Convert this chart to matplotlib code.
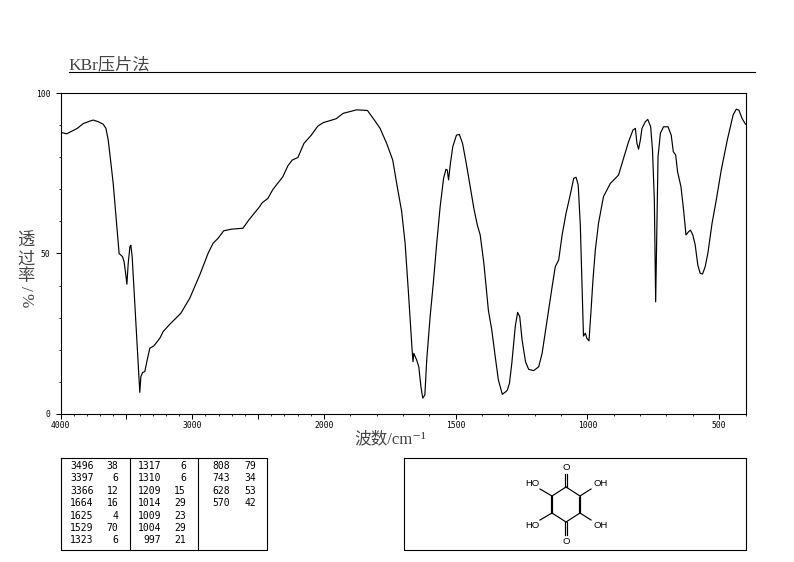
import numpy as np
import matplotlib
matplotlib.use('Agg')
import matplotlib.pyplot as plt

# wavenumber (cm-1) and transmittance (%)
wavenumber = [4000, 3953, 3915, 3873, 3827, 3782, 3752, 3714, 3676, 3655, 3638, 3620, 3600, 3585, 3572,
              3564, 3555, 3529, 3517, 3504, 3496, 3486, 3473, 3466, 3456, 3443, 3430, 3418, 3405, 3398,
              3390, 3377, 3360, 3342, 3322, 3292, 3246, 3221, 3170, 3087, 3019, 2943, 2880, 2842, 2805,
              2761, 2703, 2615, 2570, 2489, 2468, 2426, 2388, 2312, 2274, 2241, 2198, 2152, 2096, 2047,
              2005, 1954, 1927, 1876, 1835, 1813, 1787, 1762, 1739, 1724, 1705, 1692, 1680, 1671, 1665,
              1662, 1659, 1648, 1640, 1632, 1625, 1617, 1610, 1597, 1585, 1572, 1559, 1546, 1537, 1532,
              1527, 1520, 1511, 1497, 1486, 1474, 1460, 1444, 1431, 1418, 1407, 1393, 1376, 1363, 1350,
              1338, 1323, 1310, 1304, 1296, 1287, 1274, 1265, 1257, 1248, 1235, 1223, 1204, 1185, 1172,
              1153, 1134, 1122, 1109, 1096, 1081, 1064, 1052, 1043, 1035, 1027, 1020, 1015, 1008, 1002,
              994, 987, 979, 970, 958, 939, 913, 882, 863, 844, 827, 818, 812, 806, 799,
              793, 780, 771, 760, 753, 746, 741, 736, 732, 723, 711, 694, 682, 674, 665,
              658, 645, 635, 626, 616, 609, 600, 591, 581, 572, 563, 553, 543, 527, 511,
              492, 469, 447, 435, 425, 413, 400]
transmittance = [87.9, 87.4, 88.2, 89.1, 90.6, 91.3, 91.7, 91.2, 90.4, 89.1, 85.5, 79.2, 71.9, 64.6, 58.4,
                 54.2, 50.0, 49.0, 47.4, 43.3, 40.4, 46.9, 52.1, 52.6, 49.0, 39.6, 30.3, 21.9, 12.6, 6.6,
                 11.5, 12.8, 13.1, 16.7, 20.4, 21.1, 23.5, 25.6, 27.9, 31.3, 36.0, 43.3, 50.0, 53.2, 54.7,
                 57.1, 57.6, 57.9, 60.5, 64.6, 65.9, 67.2, 70.0, 74.0, 77.4, 79.2, 80.0, 84.4, 87.0, 89.8,
                 90.9, 92.1, 93.8, 94.9, 94.7, 92.2, 89.1, 84.4, 79.2, 71.9, 63.1, 53.2, 38.6, 27.1, 19.3,
                 16.2, 18.8, 16.7, 14.6, 8.4, 4.8, 5.8, 16.7, 30.3, 40.7, 53.2, 64.6, 73.5, 76.3, 76.1,
                 73.0, 78.2, 83.4, 87.0, 87.2, 84.4, 78.2, 70.4, 64.1, 58.9, 55.8, 46.9, 32.3, 26.1, 17.8,
                 10.5, 6.0, 6.8, 7.3, 9.4, 15.7, 27.1, 31.6, 30.3, 23.0, 16.2, 13.8, 13.4, 14.6, 18.8,
                 29.2, 39.6, 45.9, 48.0, 55.8, 62.6, 68.8, 73.5, 73.8, 71.4, 58.9, 38.6, 24.2, 25.1, 23.5,
                 22.7, 31.3, 41.7, 51.1, 59.4, 67.8, 71.9, 74.5, 79.7, 84.9, 88.6, 89.1, 84.4, 82.6, 85.5,
                 89.1, 91.2, 91.9, 89.6, 82.3, 66.7, 34.9, 59.4, 80.2, 87.6, 89.6, 89.6, 87.0, 81.8, 80.8,
                 75.6, 70.9, 63.6, 55.8, 56.8, 57.3, 55.8, 52.7, 46.4, 43.8, 43.6, 45.9, 50.0, 59.4, 66.7,
                 76.1, 85.5, 93.3, 95.1, 94.8, 92.2, 90.4]

x_major = [4000, 3500, 3000, 2500, 2000, 1500, 1000, 500]
x_labels = ['4000', '', '3000', '', '2000', '1500', '1000', '500']
x_minor = list(range(400, 4000, 100))
y_major = [0, 50, 100]
y_minor = list(range(0, 101, 10))

# peak table, one list per column block
peak_wn_1 = ['3496', '3397', '3366', '1664', '1625', '1529', '1323']
peak_t_1 = ['38', '6', '12', '16', '4', '70', '6']
peak_wn_2 = ['1317', '1310', '1209', '1014', '1009', '1004', '997']
peak_t_2 = ['6', '6', '15', '29', '23', '29', '21']
peak_wn_3 = ['808', '743', '628', '570']
peak_t_3 = ['79', '34', '53', '42']

# structure drawing, in pixels of the figure
bonds = [((566, 487), (580, 496)), ((580, 496), (580, 513)), ((578.6, 497), (578.6, 512)),
         ((580, 513), (566, 522)), ((566, 522), (552, 513)), ((552, 513), (552, 496)),
         ((551, 513), (551, 496)), ((552, 496), (566, 487)), ((565.4, 487), (565.4, 474)),
         ((566.6, 487), (566.6, 474)), ((565.4, 522), (565.4, 535)), ((566.6, 522), (566.6, 535)),
         ((580, 496), (591, 489)), ((552, 496), (540, 489)), ((552, 513), (540, 520)), ((580, 513), (591, 520))]
atoms = [(566, 468, 'O'), (566.5, 541, 'O'), (601, 484, 'OH'), (532, 484, 'HO'), (532, 526, 'HO'), (601, 526, 'OH')]


def forward(x):
    x = np.asarray(x, dtype=float)
    return np.where(x <= 2000, x, 2000 + (x - 2000) / 2)


def inverse(x):
    x = np.asarray(x, dtype=float)
    return np.where(x <= 2000, x, 2000 + (x - 2000) * 2)


W, H = 794, 562
cjk = ['Liberation Serif', 'Noto Sans CJK SC', 'DejaVu Sans']
grey = '#444444'
fig = plt.figure(figsize=(W / 100, H / 100), dpi=100)

ax = fig.add_axes([60.5 / W, (H - 413.5) / H, 685 / W, 320 / H])
ax.set_xscale('function', functions=(forward, inverse))
ax.plot(wavenumber, transmittance, color='black', lw=0.85)
ax.set_xlim(4000, 400)
ax.set_ylim(0, 100)
ax.set_xticks(x_major)
ax.set_xticklabels(x_labels, family='DejaVu Sans Mono', fontsize=5.8)
ax.set_xticks(x_minor, minor=True)
ax.set_yticks(y_major)
ax.set_yticklabels([str(v) for v in y_major], family='DejaVu Sans Mono', fontsize=5.8)
ax.set_yticks(y_minor, minor=True)
ax.tick_params(which='major', direction='out', length=3.6, width=0.75, pad=1.8)
ax.tick_params(which='minor', direction='out', length=1.5, width=0.6)
ax.tick_params(axis='y', which='major', pad=3.6)
for s in ax.spines.values():
    s.set_linewidth(0.8)

# page level items share one pixel canvas
page = fig.add_axes([0, 0, 1, 1], zorder=5)
page.set_xlim(0, W)
page.set_ylim(H, 0)
page.axis('off')

page.text(68, 69.5, 'KBr压片法', family=cjk, fontsize=12.4, color=grey, ha='left', va='baseline')
page.plot([68.5, 755], [72, 72], color='black', lw=0.8)
page.text(390.5, 439, '波数/cm⁻¹', family=cjk, fontsize=12, color=grey, ha='center', va='center')

for yy, ch in zip([241.5, 260, 277], '透过率'):
    page.text(26, yy, ch, family=cjk, fontsize=12.4, color=grey, ha='center', va='center')
for yy, ch in zip([288, 300], '/%'):
    page.text(25, yy, ch, family=cjk, fontsize=12.4, color=grey, ha='center', va='center', rotation=-90)

# peak table
page.plot([60.5, 266.5, 266.5, 60.5, 60.5], [457.5, 457.5, 549.5, 549.5, 457.5], color='black', lw=0.8)
page.plot([129.5, 129.5], [457.5, 549.5], color='black', lw=0.8)
page.plot([197.5, 197.5], [457.5, 549.5], color='black', lw=0.8)
blocks = [(peak_wn_1, peak_t_1, 93.5, 118.5), (peak_wn_2, peak_t_2, 161.5, 186), (peak_wn_3, peak_t_3, 230, 256)]
for wns, ts, x1, x2 in blocks:
    for i, (wn, t) in enumerate(zip(wns, ts)):
        yy = 466 + i * 12.4
        page.text(x1, yy, wn, family='DejaVu Sans Mono', fontsize=7, ha='right', va='center')
        page.text(x2, yy, t, family='DejaVu Sans Mono', fontsize=7, ha='right', va='center')

# structure box
page.plot([403.5, 745.5, 745.5, 403.5, 403.5], [457.5, 457.5, 549.5, 549.5, 457.5], color='black', lw=0.8)
for a, b in bonds:
    page.plot([a[0], b[0]], [a[1], b[1]], color='black', lw=0.85)
for xx, yy, label in atoms:
    page.text(xx, yy, label, family='Liberation Sans', fontsize=6.8, ha='center', va='center')

fig.savefig('out.png', dpi=100)
